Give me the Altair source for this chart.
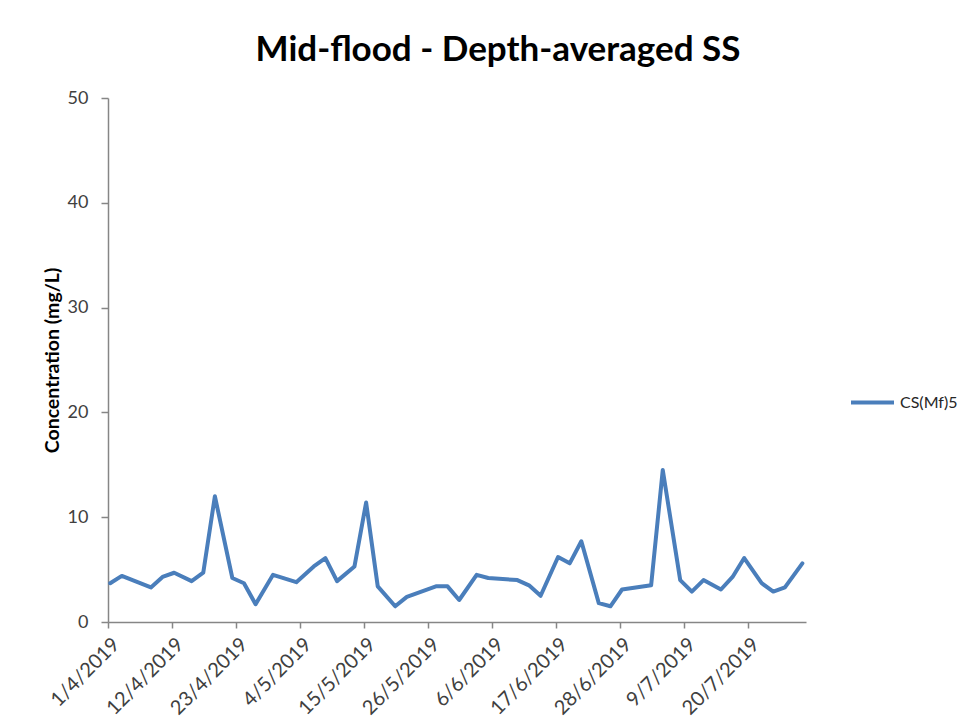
import altair as alt
import pandas as pd

# ---- data ----
series_name = "CS(Mf)5"
dates = [
    "2019-04-01", "2019-04-03", "2019-04-08", "2019-04-10", "2019-04-12",
    "2019-04-15", "2019-04-17", "2019-04-19", "2019-04-22", "2019-04-24",
    "2019-04-26", "2019-04-29", "2019-05-03", "2019-05-06", "2019-05-08",
    "2019-05-10", "2019-05-13", "2019-05-15", "2019-05-17", "2019-05-20",
    "2019-05-22", "2019-05-27", "2019-05-29", "2019-05-31", "2019-06-03",
    "2019-06-05", "2019-06-10", "2019-06-12", "2019-06-14", "2019-06-17",
    "2019-06-19", "2019-06-21", "2019-06-24", "2019-06-26", "2019-06-28",
    "2019-07-03", "2019-07-05", "2019-07-08", "2019-07-10", "2019-07-12",
    "2019-07-15", "2019-07-17", "2019-07-19", "2019-07-22", "2019-07-24",
    "2019-07-26", "2019-07-29",
]
sample_time = "09:00"  # mid-flood sampling time of day
values = [
    3.7, 4.4, 3.3, 4.3, 4.7,
    3.9, 4.7, 12.0, 4.2, 3.7,
    1.7, 4.5, 3.8, 5.3, 6.1,
    3.9, 5.3, 11.4, 3.4, 1.5,
    2.4, 3.4, 3.4, 2.1, 4.5,
    4.2, 4.0, 3.5, 2.5, 6.2,
    5.6, 7.7, 1.8, 1.5, 3.1,
    3.5, 14.5, 4.0, 2.9, 4.0,
    3.1, 4.3, 6.1, 3.7, 2.9,
    3.3, 5.6,
]
tick_dates = [
    "2019-04-01", "2019-04-12", "2019-04-23", "2019-05-04", "2019-05-15",
    "2019-05-26", "2019-06-06", "2019-06-17", "2019-06-28", "2019-07-09",
    "2019-07-20",
]
x_domain = ["2019-04-01", "2019-07-30"]
y_ticks = [0, 10, 20, 30, 40, 50]


def to_ms(d):
    return int(pd.Timestamp(d, tz="UTC").timestamp() * 1000)


df = pd.DataFrame({
    "date": [f"{d}T{sample_time}:00Z" for d in dates],
    "value": values,
    "series": series_name,
})

FONT = "Lato"
AXIS_GREY = "#868686"
LINE_BLUE = "#4A7EBB"
LABEL_GREY = "#404040"

chart = (
    alt.Chart(df)
    .mark_line(strokeWidth=4, strokeJoin="round", strokeCap="round")
    .encode(
        x=alt.X(
            "date:T",
            scale=alt.Scale(type="utc", domain=[to_ms(d) for d in x_domain], nice=False),
            axis=alt.Axis(
                values=[to_ms(d) for d in tick_dates],
                labelExpr="utcFormat(datum.value, '%-d/%-m/%Y')",
                labelAngle=-45,
                labelAlign="right",
                labelBaseline="middle",
                labelPadding=13,
                labelOffset=8,
                labelFontSize=20,
                labelFont=FONT,
                labelColor=LABEL_GREY,
                labelOverlap=False,
                grid=False,
                title=None,
                tickSize=6,
                tickColor=AXIS_GREY,
                domainColor=AXIS_GREY,
                tickWidth=1.5,
                domainWidth=1.5,
            ),
        ),
        y=alt.Y(
            "value:Q",
            scale=alt.Scale(domain=[0, 50], nice=False),
            axis=alt.Axis(
                values=y_ticks,
                title="Concentration (mg/L)",
                titleFont=FONT,
                titleFontSize=19.5,
                titleFontWeight="bold",
                titleColor="black",
                titlePadding=5,
                labelFont=FONT,
                labelFontSize=18,
                labelColor=LABEL_GREY,
                labelPadding=13,
                grid=False,
                tickSize=7,
                tickColor=AXIS_GREY,
                domainColor=AXIS_GREY,
                tickWidth=1.5,
                domainWidth=1.5,
            ),
        ),
        color=alt.Color(
            "series:N",
            scale=alt.Scale(range=[LINE_BLUE]),
            legend=alt.Legend(
                title=None,
                orient="none",
                legendX=741,
                legendY=281,
                symbolType="stroke",
                symbolSize=1849,
                symbolStrokeWidth=4,
                labelFont=FONT,
                labelFontSize=16,
                labelColor="#262626",
                labelOffset=4,
                padding=0,
            ),
        ),
    )
    .properties(
        width=698,
        height=524,
        background="white",
        padding={"left": 100, "top": 90, "right": 165, "bottom": 98},
        autosize=alt.AutoSizeParams(type="none"),
        title=alt.Title(
            "Mid-flood - Depth-averaged SS",
            font=FONT,
            fontSize=35,
            fontWeight="bold",
            color="black",
            anchor="middle",
            dx=41,
            offset=21,
        ),
    )
    .configure_view(strokeWidth=0, stroke="transparent")
)

chart.save("out.html", embed_options={"renderer": "svg", "actions": False})
